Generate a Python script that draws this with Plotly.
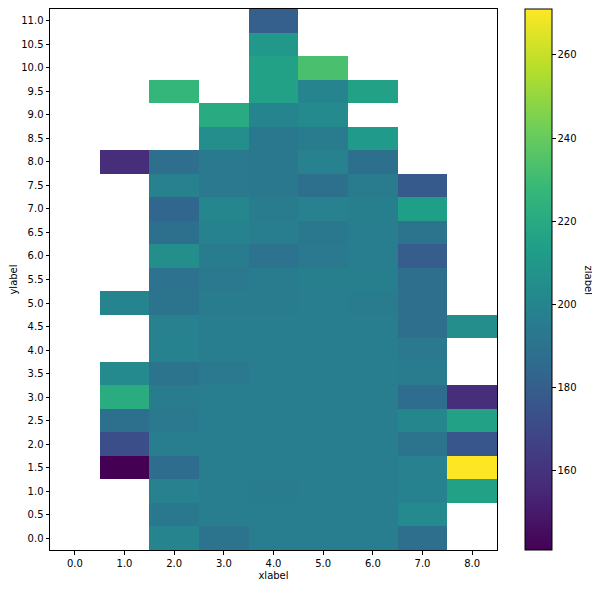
import plotly.graph_objects as go

N = None
x_vals = [0.0, 1.0, 2.0, 3.0, 4.0, 5.0, 6.0, 7.0, 8.0]
y_vals = [0.0, 0.5, 1.0, 1.5, 2.0, 2.5, 3.0, 3.5, 4.0, 4.5, 5.0, 5.5,
          6.0, 6.5, 7.0, 7.5, 8.0, 8.5, 9.0, 9.5, 10.0, 10.5, 11.0]
x_ticklabels = ["0.0", "1.0", "2.0", "3.0", "4.0", "5.0", "6.0", "7.0", "8.0"]
y_ticklabels = ["0.0", "0.5", "1.0", "1.5", "2.0", "2.5", "3.0", "3.5", "4.0", "4.5",
                "5.0", "5.5", "6.0", "6.5", "7.0", "7.5", "8.0", "8.5", "9.0", "9.5",
                "10.0", "10.5", "11.0"]
z_vals = [
    [N, N, 200, 191, 196, 196, 196, 188, N],    # 0.0
    [N, N, 193, 196, 196, 196, 196, 203, N],    # 0.5
    [N, N, 198, 196, 195, 196, 196, 199, 215],  # 1.0
    [N, 141, 187, 196, 196, 196, 196, 198, 271],  # 1.5
    [N, 172, 196, 196, 196, 196, 196, 191, 176],  # 2.0
    [N, 189, 194, 196, 196, 196, 196, 201, 215],  # 2.5
    [N, 221, 195, 196, 196, 196, 196, 187, 158],  # 3.0
    [N, 203, 191, 194, 196, 196, 196, 195, N],    # 3.5
    [N, N, 199, 196, 196, 196, 196, 194, N],      # 4.0
    [N, N, 198, 196, 196, 196, 196, 188, 205],    # 4.5
    [N, 200, 191, 195, 195, 196, 195, 188, N],    # 5.0
    [N, N, 190, 194, 195, 197, 197, 188, N],      # 5.5
    [N, N, 205, 195, 190, 194, 196, 179, N],      # 6.0
    [N, N, 189, 199, 196, 193, 196, 191, N],      # 6.5
    [N, N, 184, 201, 195, 198, 197, 214, N],      # 7.0
    [N, N, 198, 194, 193, 189, 195, 178, N],      # 7.5
    [N, 158, 188, 194, 193, 198, 189, N, N],      # 8.0
    [N, N, N, 205, 193, 195, 211, N, N],          # 8.5
    [N, N, N, 220, 200, 203, N, N, N],            # 9.0
    [N, N, 227, N, 215, 200, 215, N, N],          # 9.5
    [N, N, N, N, 215, 233, N, N, N],              # 10.0
    [N, N, N, N, 210, N, N, N, N],                # 10.5
    [N, N, N, N, 180, N, N, N, N],                # 11.0
]
cbar_ticks = [160, 180, 200, 220, 240, 260]
zmin, zmax = 141, 271

# page body has an 8px margin on every side; size the figure to fit inside it
OFF = 8
W, H = 600 - OFF, 589 - 2 * OFF
L, T = 50 - OFF, 1
PR, PB = 497 - OFF, 550 - OFF
R, B = W - PR, H - PB
pw = PR - L

fig = go.Figure(go.Heatmap(
    x=x_vals, y=y_vals, z=z_vals,
    colorscale="Viridis", zmin=zmin, zmax=zmax,
    hoverongaps=False,
    colorbar=dict(
        x=1 + (525 - 497) / pw, xanchor="left", xpad=0,
        y=0.5, yanchor="middle", len=1, lenmode="fraction", ypad=0,
        thickness=27, thicknessmode="pixels",
        outlinecolor="black", outlinewidth=1,
        tickvals=cbar_ticks, ticks="outside", ticklen=3.5, tickcolor="black",
        tickfont=dict(family="DejaVu Sans", size=10, color="black"),
    ),
))

fig.update_xaxes(
    tickvals=x_vals, ticktext=x_ticklabels, range=[-0.5, 8.5],
    showgrid=False, zeroline=False, showline=True, linecolor="black", linewidth=1,
    mirror=True, ticks="outside", ticklen=3.5, tickcolor="black",
    tickfont=dict(family="DejaVu Sans", size=10, color="black"),
    title=dict(text="xlabel", font=dict(family="DejaVu Sans", size=10, color="black"), standoff=4),
)
fig.update_yaxes(
    tickvals=y_vals, ticktext=y_ticklabels, range=[-0.25, 11.25],
    showgrid=False, zeroline=False, showline=True, linecolor="black", linewidth=1,
    mirror=True, ticks="outside", ticklen=3.5, tickcolor="black",
    tickfont=dict(family="DejaVu Sans", size=10, color="black"),
    title=dict(text="ylabel", font=dict(family="DejaVu Sans", size=10, color="black"), standoff=6),
)
fig.add_annotation(
    text="zlabel", xref="paper", yref="paper", x=1 + (588 - 497) / pw, y=0.5,
    showarrow=False, textangle=90, xanchor="center", yanchor="middle",
    font=dict(family="DejaVu Sans", size=10, color="black"),
)
fig.update_layout(
    width=W, height=H, margin=dict(l=L, r=R, t=T, b=B, autoexpand=False),
    paper_bgcolor="white", plot_bgcolor="white",
    font=dict(family="DejaVu Sans", size=10, color="black"),
)
fig.write_html("out.html")
